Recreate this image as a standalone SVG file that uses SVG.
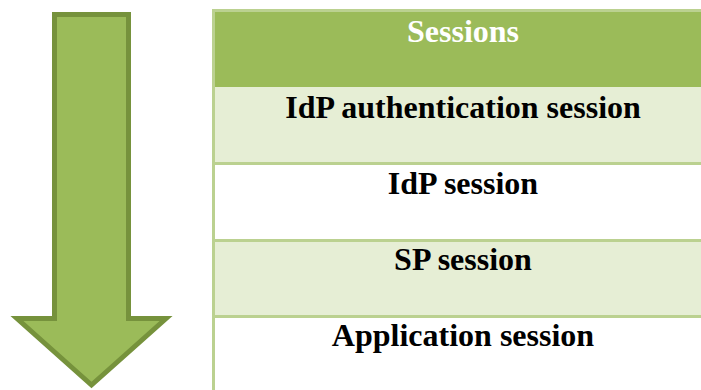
<svg xmlns="http://www.w3.org/2000/svg" width="701" height="390" viewBox="0 0 701 390">
<style>
.lbl{font-family:"Liberation Serif","Times New Roman",serif;font-weight:bold;font-size:32px;text-anchor:middle;fill:#000}
.hdr{fill:#fff}
.line{fill:#BBD190}
</style>
<rect width="701" height="390" fill="#fff"/>
<g id="arrow">
<polygon points="54.5,14.5 128.5,14.5 128.5,318.5 166,318.5 91.5,385 17,318.5 54.5,318.5" fill="#9BBB59" stroke="#76923C" stroke-width="5" stroke-linejoin="miter"/>
</g>
<g id="table">
<rect x="212" y="9" width="510" height="381" class="line"/>
<g id="header">
<rect x="215" y="12" width="510" height="75" fill="#9BBB59"/>
<text class="lbl hdr" x="463" y="42">Sessions</text>
</g>
<g id="row-idp-auth">
<rect x="215" y="87" width="510" height="75" fill="#E6EED5"/>
<text class="lbl" x="463" y="118">IdP authentication session</text>
</g>
<g id="row-idp">
<rect x="215" y="165" width="510" height="74" fill="#fff"/>
<text class="lbl" x="463" y="194">IdP session</text>
</g>
<g id="row-sp">
<rect x="215" y="242" width="510" height="73" fill="#E6EED5"/>
<text class="lbl" x="463" y="270">SP session</text>
</g>
<g id="row-app">
<rect x="215" y="318" width="510" height="72" fill="#fff"/>
<text class="lbl" x="463" y="346">Application session</text>
</g>
</g>
<g id="connectors"/>
</svg>
